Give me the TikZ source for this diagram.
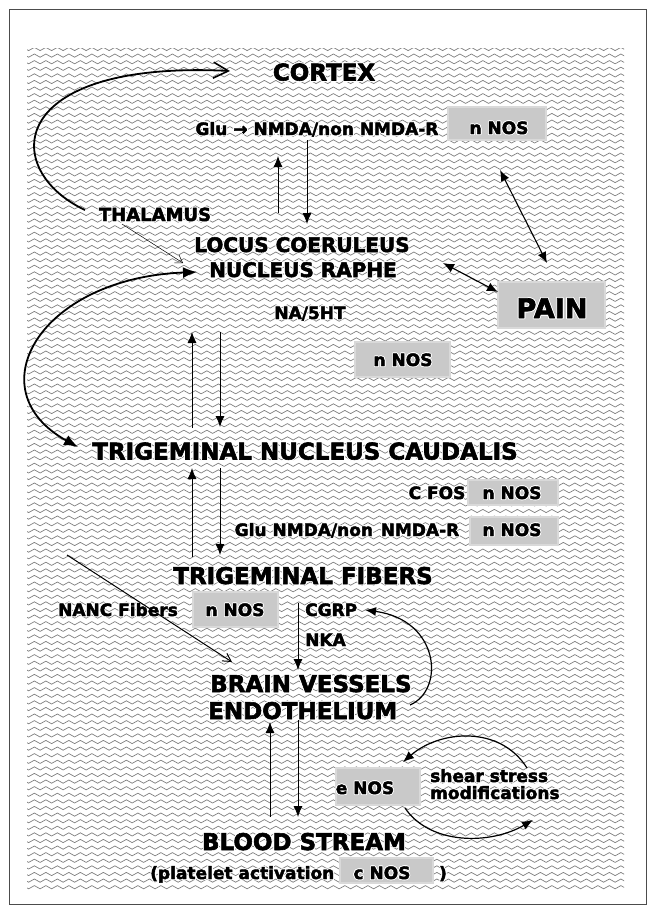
\documentclass[tikz,border=0pt]{standalone}
\usepackage{fontspec}
\setmainfont{DejaVu Sans}[BoldFeatures={FakeBold=2.5}]
\usepackage[copies]{contour}
\contourlength{0.8pt}
\newcommand{\hl}[1]{\contour{white}{#1}}
\usetikzlibrary{arrows.meta,decorations.pathmorphing}
\tikzset{
  lbig/.style={font=\bfseries\fontsize{23}{27}\selectfont, inner sep=0pt, anchor=base},
  lmid/.style={font=\bfseries\fontsize{20}{24}\selectfont, inner sep=0pt, anchor=base},
  lsml/.style={font=\bfseries\fontsize{17}{20}\selectfont, inner sep=0pt, anchor=base},
  nbox/.style={fill=gray!42, draw=gray!30, line width=2pt, inner sep=0pt},
  conn/.style={line width=0.9pt, -{Latex[length=11pt,width=9pt]}},
  dconn/.style={line width=1.1pt, {Latex[length=11pt,width=9pt]}-{Latex[length=11pt,width=9pt]}},
  bigcurve/.style={line width=1.8pt},
  midcurve/.style={line width=1.2pt, -{Latex[length=11pt,width=9pt]}},
  wave/.style={draw=black!50, line width=0.7pt, decorate,
    decoration={zigzag, segment length=11.5pt, amplitude=1.6pt}}
}
\begin{document}
\begin{tikzpicture}[x=1pt,y=-1pt]
\useasboundingbox (0,0) rectangle (651,905);
\fill[white] (0,0) rectangle (651,905);
\draw[black!70, line width=1pt] (9,9) rectangle (646,904);
% textured background
\begin{scope}
  \clip (27,48) rectangle (624,890);
  \foreach \k in {0,...,128} {
    \draw[wave] (20,{49+6.6*\k}) -- (632,{49+6.6*\k});
  }
\end{scope}
% grey boxes
\node[nbox, minimum width=98pt, minimum height=33pt] (b1) at (497,123.5) {};
\node[nbox, minimum width=95pt, minimum height=35pt] (b2) at (402.5,359.5) {};
\node[nbox, minimum width=107pt, minimum height=46pt] (bpain) at (551.5,305) {};
\node[nbox, minimum width=90pt, minimum height=25pt] (b3) at (513,492.5) {};
\node[nbox, minimum width=88pt, minimum height=28pt] (b4) at (514,531) {};
\node[nbox, minimum width=85pt, minimum height=35pt] (b5) at (235.5,609.5) {};
\node[nbox, minimum width=84pt, minimum height=37pt] (be) at (378,786.5) {};
\node[nbox, minimum width=93pt, minimum height=25pt] (bc) at (386.5,870.5) {};
% texts
\node[lbig] (cortex) at (324,80.5) {\hl{CORTEX}};
\node[lsml] (glu) at (317,135) {\hl{Glu → NMDA/non NMDA-R}};
\node[lsml] (nnos1) at (499,134) {\hl{n NOS}};
\node[lsml, font=\bfseries\fontsize{18}{22}\selectfont] (thal) at (155,221) {\hl{THALAMUS}};
\node[lmid] (lc1) at (302,252) {\hl{LOCUS COERULEUS}};
\node[lmid] (lc2) at (303,277) {\hl{NUCLEUS RAPHE}};
\node[lsml, font=\bfseries\fontsize{27}{30}\selectfont] (pain) at (552,318) {\hl{PAIN}};
\node[lsml] (na) at (310,319) {\hl{NA/5HT}};
\node[lsml] (nnos2) at (403,366) {\hl{n NOS}};
\node[lbig] (tnc) at (305,459.5) {\hl{TRIGEMINAL NUCLEUS CAUDALIS}};
\node[lsml] (cfos) at (437,499) {\hl{C FOS}};
\node[lsml] (nnos3) at (512,499) {\hl{n NOS}};
\node[lsml] (glu2) at (347,536) {\hl{Glu NMDA/non\hspace{0.45em}NMDA-R}};
\node[lsml] (nnos4) at (512,536) {\hl{n NOS}};
\node[lbig] (tf) at (303,584) {\hl{TRIGEMINAL FIBERS}};
\node[lsml] (nanc) at (118,616) {\hl{NANC Fibers}};
\node[lsml] (nnos5) at (235,616) {\hl{n NOS}};
\node[lsml, anchor=base west] (cgrp) at (305,616) {\hl{CGRP}};
\node[lsml, anchor=base west] (nka) at (305,646) {\hl{NKA}};
\node[lbig, anchor=base west] (bv1) at (210,692) {\hl{BRAIN VESSELS}};
\node[lbig, anchor=base west] (bv2) at (208,719) {\hl{ENDOTHELIUM}};
\node[lsml] (enos) at (365,794) {\hl{e NOS}};
\node[lsml, anchor=base west] (sh1) at (430,782) {\hl{shear stress}};
\node[lsml, anchor=base west] (sh2) at (430,799) {\hl{modifications}};
\node[lbig] (bs) at (304,850) {\hl{BLOOD STREAM}};
\node[lsml, anchor=base west] (plat) at (150,879) {\hl{(platelet activation}};
\node[lsml] (cnos) at (382,879) {\hl{c NOS}};
\node[lsml] (paren) at (443,879) {\hl{)}};
% connector end points
\coordinate (c1a) at (278,213); \coordinate (c1b) at (278,156);
\coordinate (c2a) at (307,140); \coordinate (c2b) at (307,224);
\coordinate (c3a) at (192,428); \coordinate (c3b) at (192,332);
\coordinate (c4a) at (220,332); \coordinate (c4b) at (220,427);
\coordinate (c5a) at (192,557); \coordinate (c5b) at (192,468);
\coordinate (c6a) at (220,468); \coordinate (c6b) at (220,555);
\coordinate (c7a) at (298,603); \coordinate (c7b) at (298,670);
\coordinate (c8a) at (270,817); \coordinate (c8b) at (270,722);
\coordinate (c9a) at (298,720); \coordinate (c9b) at (298,817);
\coordinate (p1a) at (500,170); \coordinate (p1b) at (547,263);
\coordinate (p2a) at (443,263); \coordinate (p2b) at (498,292);
\coordinate (t1a) at (122,224); \coordinate (t1b) at (183,263);
\coordinate (n1a) at (67,555); \coordinate (n1b) at (232,662);
\coordinate (k1a) at (85,210); \coordinate (k1b) at (230,71);
\coordinate (k2a) at (197,272); \coordinate (k2b) at (78,447);
\coordinate (k3a) at (410,705); \coordinate (k3b) at (365,610);
\coordinate (k4a) at (527,768); \coordinate (k4b) at (403,762);
\coordinate (k5a) at (405,808); \coordinate (k5b) at (533,820);
% connectors
\draw[conn] (c1a) -- (c1b);
\draw[conn] (c2a) -- (c2b);
\draw[conn] (c3a) -- (c3b);
\draw[conn] (c4a) -- (c4b);
\draw[conn] (c5a) -- (c5b);
\draw[conn] (c6a) -- (c6b);
\draw[conn] (c7a) -- (c7b);
\draw[conn] (c8a) -- (c8b);
\draw[conn] (c9a) -- (c9b);
\draw[dconn] (p1a) -- (p1b);
\draw[dconn] (p2a) -- (p2b);
\draw[line width=0.5pt, -{Straight Barb[length=7pt,width=9pt]}] (t1a) -- (t1b);
\draw[line width=1pt, -{Straight Barb[length=8pt,width=9pt]}] (n1a) -- (n1b);
\draw[bigcurve, -{Straight Barb[length=15pt,width=16pt,line width=1.6pt]}] (k1a) .. controls (0,170) and (5,60) .. (k1b);
\draw[bigcurve, {Latex[length=14pt,width=11pt]}-{Latex[length=14pt,width=11pt]}] (k2a) .. controls (40,278) and (-25,390) .. (k2b);
\draw[midcurve] (k3a) .. controls (445,690) and (440,620) .. (k3b);
\draw[midcurve] (k4a) .. controls (500,725) and (440,730) .. (k4b);
\draw[midcurve] (k5a) .. controls (430,845) and (490,845) .. (k5b);
\end{tikzpicture}
\end{document}
